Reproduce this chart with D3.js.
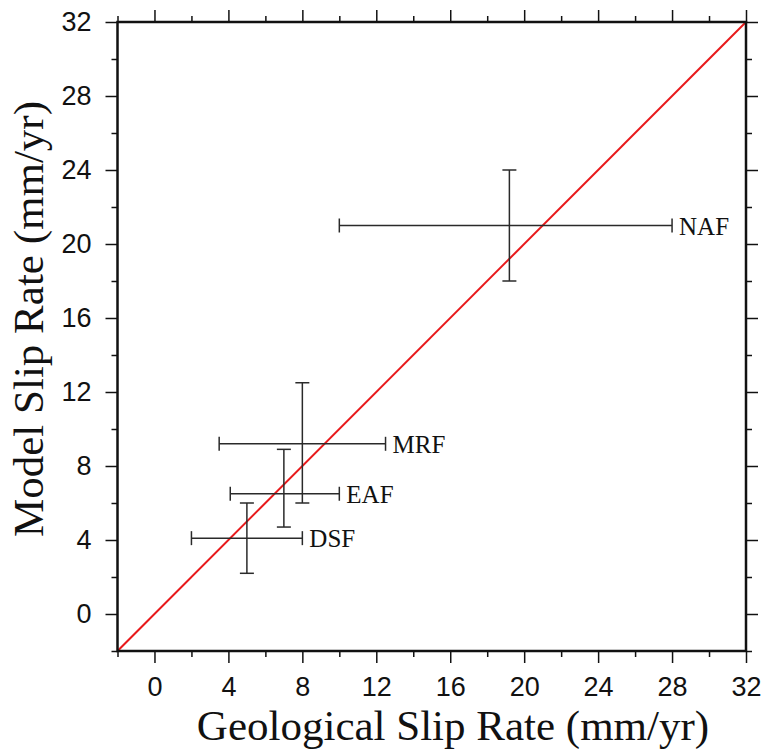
<!DOCTYPE html>
<html>
<head>
<meta charset="utf-8">
<script src="https://cdn.jsdelivr.net/npm/d3@7"></script>
<style>
  body { margin: 0; background: #fff; }
</style>
</head>
<body>
<div id="chart"></div>
<script>
// fault names and slip rates (mm/yr)
var faults = ["NAF", "MRF", "EAF", "DSF"];
var geoRate = [19.2, 8, 7, 5];      // geological slip rate (centre)
var geoMin = [10, 3.5, 4.1, 2];
var geoMax = [28, 12.5, 10, 8];
var modelRate = [21, 9.2, 6.5, 4.1]; // model slip rate (centre)
var modelMin = [18, 6, 4.7, 2.2];
var modelMax = [24, 12.5, 8.9, 6];
var majorTicks = [0, 4, 8, 12, 16, 20, 24, 28, 32];
var minorTicks = [-2, 2, 6, 10, 14, 18, 22, 26, 30];
var axisDomain = [-2, 32];

var width = 767, height = 752;
var margin = { top: 22, right: 21, bottom: 101, left: 117.5 };

var svg = d3.select("#chart").append("svg")
  .attr("width", width)
  .attr("height", height);

var x = d3.scaleLinear().domain(axisDomain).range([margin.left, width - margin.right]);
var y = d3.scaleLinear().domain(axisDomain).range([height - margin.bottom, margin.top]);

var sans = "'Liberation Sans', Arial, Helvetica, sans-serif";
var serif = "'Liberation Serif', 'Times New Roman', serif";

// 1:1 line
svg.append("line")
  .attr("x1", x(axisDomain[0])).attr("y1", y(axisDomain[0]))
  .attr("x2", x(axisDomain[1])).attr("y2", y(axisDomain[1]))
  .attr("stroke", "#e8191b")
  .attr("stroke-width", 2);

// error bars
var data = faults.map(function (f, i) {
  return { name: f, x: geoRate[i], x0: geoMin[i], x1: geoMax[i], y: modelRate[i], y0: modelMin[i], y1: modelMax[i] };
});
var cap = 7;
var bars = svg.append("g")
  .attr("stroke", "#2a2a2a")
  .attr("stroke-width", 1.5)
  .attr("fill", "none");
var bar = bars.selectAll("g").data(data).enter().append("g");
bar.append("line") // horizontal
  .attr("x1", function (d) { return x(d.x0); })
  .attr("x2", function (d) { return x(d.x1); })
  .attr("y1", function (d) { return y(d.y); })
  .attr("y2", function (d) { return y(d.y); });
bar.append("line") // vertical
  .attr("x1", function (d) { return x(d.x); })
  .attr("x2", function (d) { return x(d.x); })
  .attr("y1", function (d) { return y(d.y0); })
  .attr("y2", function (d) { return y(d.y1); });
["x0", "x1"].forEach(function (k) {
  bar.append("line")
    .attr("x1", function (d) { return x(d[k]); })
    .attr("x2", function (d) { return x(d[k]); })
    .attr("y1", function (d) { return y(d.y) - cap; })
    .attr("y2", function (d) { return y(d.y) + cap; });
});
["y0", "y1"].forEach(function (k) {
  bar.append("line")
    .attr("x1", function (d) { return x(d.x) - cap; })
    .attr("x2", function (d) { return x(d.x) + cap; })
    .attr("y1", function (d) { return y(d[k]); })
    .attr("y2", function (d) { return y(d[k]); });
});

// fault labels
svg.append("g").selectAll("text").data(data).enter().append("text")
  .attr("x", function (d) { return x(d.x1) + 7; })
  .attr("y", function (d) { return y(d.y); })
  .attr("dy", "0.36em")
  .style("font-family", serif)
  .style("font-size", "25px")
  .attr("fill", "#111")
  .text(function (d) { return d.name; });

// axes with major and minor ticks on all four sides
function addAxis(axisFn, scale, transform, labels) {
  var gMinor = svg.append("g").attr("transform", transform)
    .call(axisFn(scale).tickValues(minorTicks).tickSize(6).tickFormat(""));
  var gMajor = svg.append("g").attr("transform", transform)
    .call(axisFn(scale).tickValues(majorTicks).tickSize(12).tickPadding(labels ? 14 : 0)
      .tickFormat(labels ? d3.format("d") : ""));
  [gMinor, gMajor].forEach(function (g) {
    g.select(".domain").remove();
    g.selectAll(".tick line").attr("stroke", "#111").attr("stroke-width", 1.5);
  });
  gMajor.selectAll("text")
    .style("font-family", sans)
    .style("font-size", "27px")
    .attr("fill", "#111");
  return gMajor;
}
addAxis(d3.axisBottom, x, "translate(0," + (height - margin.bottom) + ")", true);
addAxis(d3.axisTop, x, "translate(0," + margin.top + ")", false);
addAxis(d3.axisLeft, y, "translate(" + margin.left + ",0)", true);
addAxis(d3.axisRight, y, "translate(" + (width - margin.right) + ",0)", false);

// frame
svg.append("rect")
  .attr("x", x(axisDomain[0]))
  .attr("y", y(axisDomain[1]))
  .attr("width", x(axisDomain[1]) - x(axisDomain[0]))
  .attr("height", y(axisDomain[0]) - y(axisDomain[1]))
  .attr("fill", "none")
  .attr("stroke", "#111")
  .attr("stroke-width", 2.5);

// axis titles
svg.append("text")
  .attr("x", 453)
  .attr("y", 740)
  .attr("text-anchor", "middle")
  .style("font-family", serif)
  .style("font-size", "43px")
  .attr("fill", "#111")
  .text("Geological Slip Rate (mm/yr)");

svg.append("text")
  .attr("transform", "translate(43,319)rotate(-90)")
  .attr("text-anchor", "middle")
  .style("font-family", serif)
  .style("font-size", "43px")
  .attr("fill", "#111")
  .text("Model Slip Rate (mm/yr)");
</script>
</body>
</html>
